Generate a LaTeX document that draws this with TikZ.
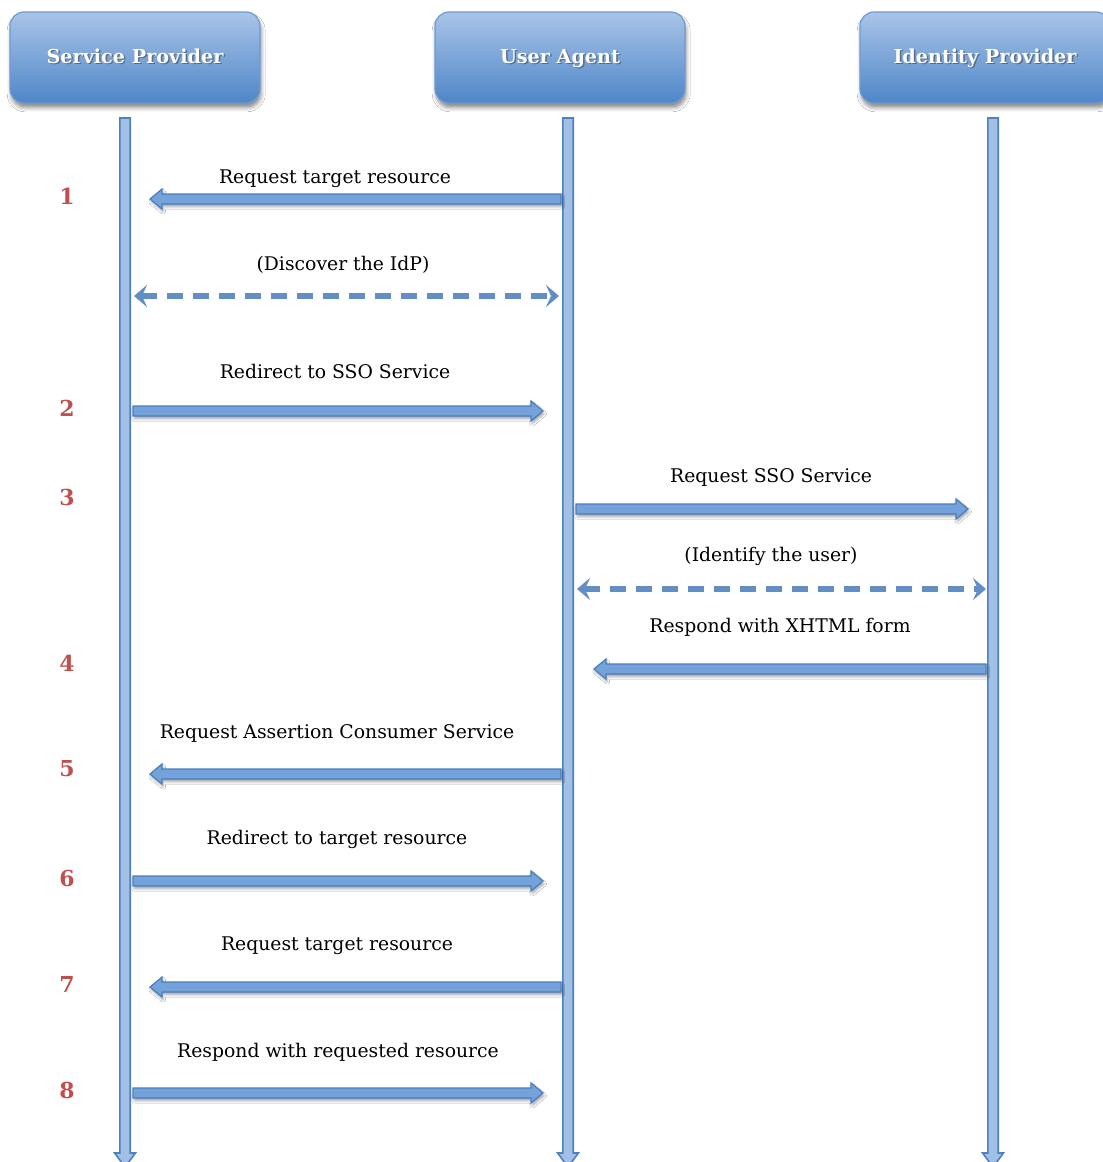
\documentclass[tikz,border=0pt]{standalone}
\usepackage{fontspec}
\setmainfont{DejaVu Serif}
\usetikzlibrary{arrows.meta,calc,shadows.blur}

\definecolor{hdtop}{HTML}{A9C4E8}
\definecolor{hdbot}{HTML}{4E86C8}
\definecolor{hdline}{HTML}{6E9BD2}
\definecolor{lifefill}{HTML}{A2C0E6}
\definecolor{lifeedge}{HTML}{4F81BD}
\definecolor{arrfill}{HTML}{73A3DA}
\definecolor{arredge}{HTML}{4A7EBB}
\definecolor{stepred}{HTML}{C0504D}

\tikzset{
  x=0.5pt, y=-0.5pt,
  header/.style={rectangle, rounded corners=7pt, minimum width=125pt,
    minimum height=45.5pt, top color=hdtop, bottom color=hdbot,
    draw=hdline, line width=0.6pt,
    blur shadow={shadow xshift=0.6pt, shadow yshift=-2.4pt, shadow opacity=45, shadow blur radius=2pt}},
  headtext/.style={anchor=base, text=white, inner sep=0pt, font=\bfseries\fontsize{9.6}{11}\selectfont},
  headshade/.style={anchor=base, text=black!75, opacity=0.55, inner sep=0pt, font=\bfseries\fontsize{9.6}{11}\selectfont},
  lifebar/.style={fill=lifefill, draw=lifeedge, line width=0.8pt},
  msgarrow/.style={fill=arrfill, draw=arredge, line width=0.6pt,
    blur shadow={shadow xshift=0.6pt, shadow yshift=-1.4pt, shadow opacity=35, shadow blur radius=1.2pt}},
  dasharrow/.style={draw=lifeedge!90!white, line width=2.6pt, dash pattern=on 8pt off 5pt,
    {Stealth[length=6.5pt,width=11pt,inset=2.5pt]}-{Stealth[length=6.5pt,width=11pt,inset=2.5pt]}},
  msglabel/.style={text=black, font=\fontsize{9.4}{11}\selectfont, inner sep=1pt},
  stepno/.style={text=stepred, font=\bfseries\fontsize{11}{13}\selectfont, inner sep=1pt},
}

% vertical life line of one participant, ending in an arrow head
\newcommand\lifeline[2]{%
  \filldraw[lifebar] let \p1=(#1), \p2=(#2) in
    ({\x1-2.6pt},\y1) -- ({\x1+2.6pt},\y1) -- ({\x2+2.6pt},{\y2+7pt})
    -- ({\x2+5.2pt},{\y2+7pt}) -- (\x2,\y2) -- ({\x2-5.2pt},{\y2+7pt})
    -- ({\x2-2.6pt},{\y2+7pt}) -- cycle;}

% horizontal block arrow from #1 (tail) to #2 (tip)
\newcommand\msg[2]{%
  \filldraw[msgarrow] let \p1=(#1), \p2=(#2), \n1={(\x2>\x1) ? 6 : -6} in
    (\x1,{\y1+2.5pt}) -- ({\x2-(\n1)*1pt},{\y1+2.5pt})
    -- ({\x2-(\n1)*1pt},{\y1+5pt}) -- (\x2,\y1)
    -- ({\x2-(\n1)*1pt},{\y1-5pt}) -- ({\x2-(\n1)*1pt},{\y1-2.5pt})
    -- (\x1,{\y1-2.5pt}) -- cycle;}

\begin{document}
\begin{tikzpicture}
\useasboundingbox (0,0) rectangle (1103,1162);
\fill[white] (0,0) rectangle (1103,1162);

% participants
\node[header] (sp) at (135,57.5) {};
\node[header] (ua) at (560,57.5) {};
\node[header] (idp) at (985,57.5) {};
\node[headshade] (spsh) at (136.5,64.5) {Service Provider};
\node[headshade] (uash) at (561.5,64.5) {User Agent};
\node[headshade] (idpsh) at (986.5,64.5) {Identity Provider};
\node[headtext] (spt) at (135,63) {Service Provider};
\node[headtext] (uat) at (560,63) {User Agent};
\node[headtext] (idpt) at (985,63) {Identity Provider};

% life lines
\coordinate (sptop) at (125,118);  \coordinate (spbot) at (125,1167);
\coordinate (uatop) at (568,118);  \coordinate (uabot) at (568,1167);
\coordinate (idptop) at (993,118); \coordinate (idpbot) at (993,1167);
\lifeline{sptop}{spbot}
\lifeline{uatop}{uabot}
\lifeline{idptop}{idpbot}

% message end points
\coordinate (m1a) at (561,199);  \coordinate (m1b) at (150,199);
\coordinate (d1a) at (134,296);  \coordinate (d1b) at (559,296);
\coordinate (m2a) at (133,411);  \coordinate (m2b) at (543,411);
\coordinate (m3a) at (576,509);  \coordinate (m3b) at (968,509);
\coordinate (d2a) at (577,589);  \coordinate (d2b) at (986,589);
\coordinate (m4a) at (986,669);  \coordinate (m4b) at (594,669);
\coordinate (m5a) at (561,774);  \coordinate (m5b) at (150,774);
\coordinate (m6a) at (133,881);  \coordinate (m6b) at (543,881);
\coordinate (m7a) at (561,987);  \coordinate (m7b) at (150,987);
\coordinate (m8a) at (133,1093); \coordinate (m8b) at (543,1093);

% messages
\msg{m1a}{m1b}
\draw[dasharrow] (d1a) -- (d1b);
\msg{m2a}{m2b}
\msg{m3a}{m3b}
\draw[dasharrow] (d2a) -- (d2b);
\msg{m4a}{m4b}
\msg{m5a}{m5b}
\msg{m6a}{m6b}
\msg{m7a}{m7b}
\msg{m8a}{m8b}

% message labels
\node[msglabel] (l1) at (335,179) {Request target resource};
\node[msglabel] (ld1) at (343,265) {(Discover the IdP)};
\node[msglabel] (l2) at (335,371) {Redirect to SSO Service};
\node[msglabel] (l3) at (771,477) {Request SSO Service};
\node[msglabel] (ld2) at (771,556) {(Identify the user)};
\node[msglabel] (l4) at (780,627) {Respond with XHTML form};
\node[msglabel] (l5) at (337,733) {Request Assertion Consumer Service};
\node[msglabel] (l6) at (337,839) {Redirect to target resource};
\node[msglabel] (l7) at (337,946) {Request target resource};
\node[msglabel] (l8) at (338,1052) {Respond with requested resource};

% step numbers
\node[stepno] (n1) at (67,196) {1};
\node[stepno] (n2) at (67,408) {2};
\node[stepno] (n3) at (67,497) {3};
\node[stepno] (n4) at (67,663) {4};
\node[stepno] (n5) at (67,769) {5};
\node[stepno] (n6) at (67,878) {6};
\node[stepno] (n7) at (67,984) {7};
\node[stepno] (n8) at (67,1090) {8};
\end{tikzpicture}
\end{document}
